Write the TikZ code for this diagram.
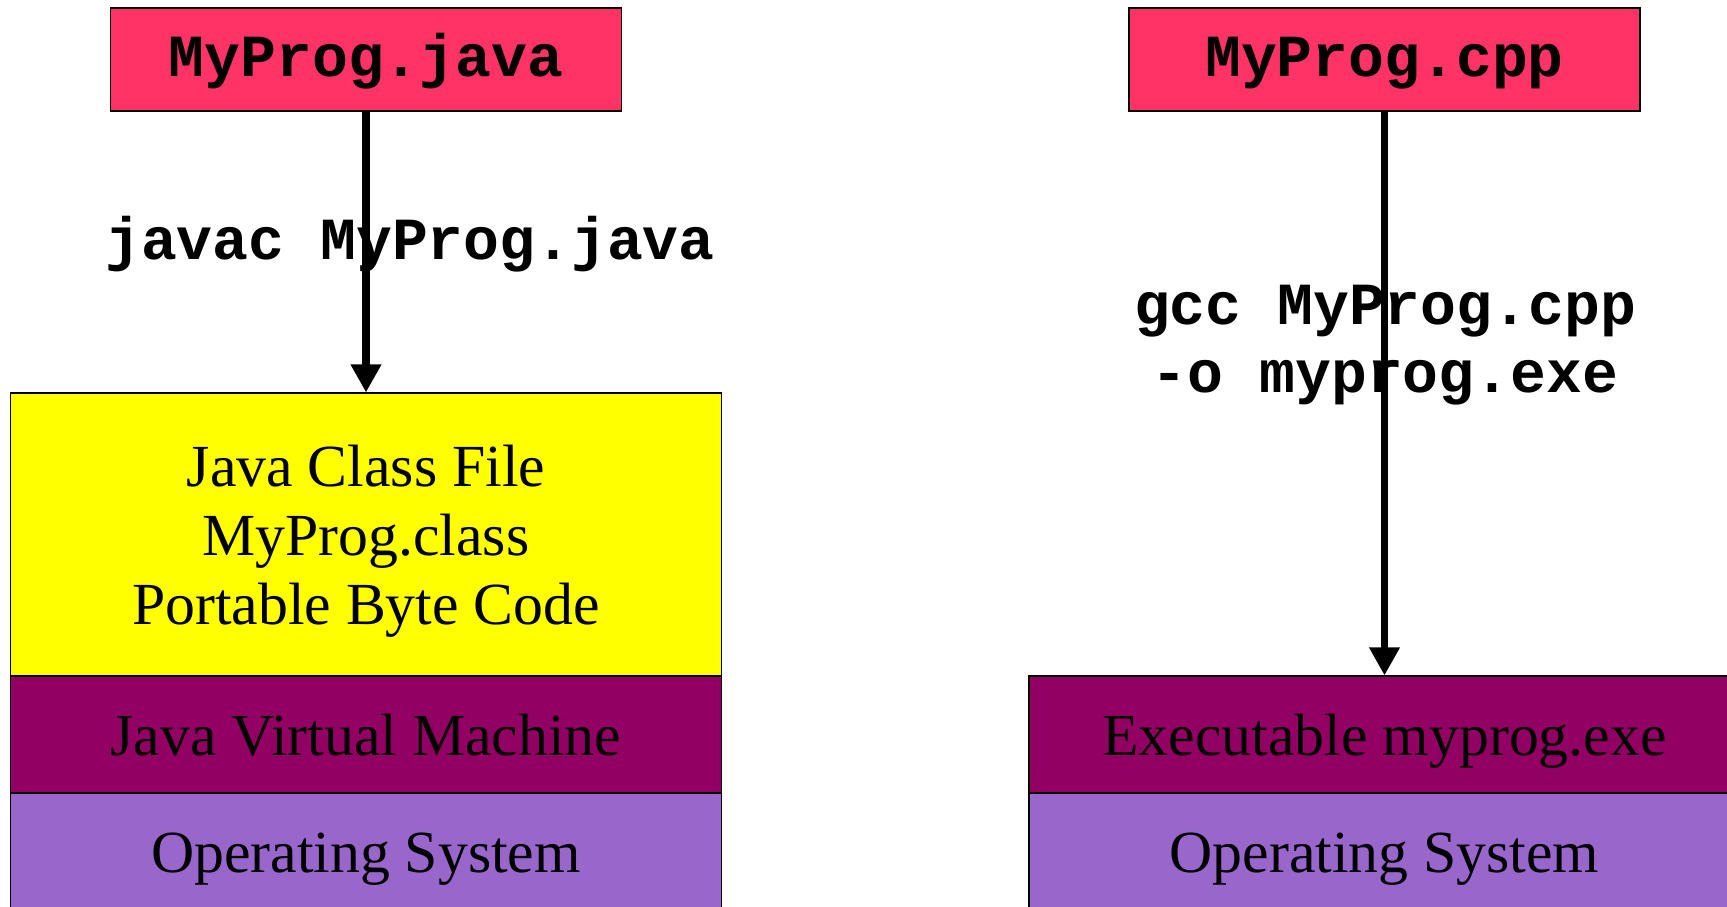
\documentclass[tikz,border=0pt]{standalone}
\usepackage{fontspec}
\setmainfont{Liberation Serif}
\setmonofont{Liberation Mono}
\usetikzlibrary{arrows.meta}

\definecolor{srcpink}{RGB}{255,51,102}
\definecolor{classyellow}{RGB}{255,255,0}
\definecolor{vmpurple}{RGB}{147,0,99}
\definecolor{ospurple}{RGB}{153,102,204}

\tikzset{
  srcbox/.style={fill=srcpink,minimum width=10.22cm,minimum height=2.06cm,
    text height=27pt,text depth=7.5pt,
    font=\fontsize{34}{39}\selectfont\ttfamily\bfseries},
  layer/.style={minimum width=14.22cm,minimum height=2.34cm,
    text height=30.6pt,text depth=6.8pt},
  cmdlabel/.style={align=center,inner sep=0pt,anchor=base,
    font=\fontsize{34}{38.7}\selectfont\ttfamily\bfseries},
  compilearrow/.style={line width=4pt,-{Triangle[width=16.5pt,length=16pt]}}
}

\begin{document}
\begin{tikzpicture}

        \useasboundingbox (0,0) rectangle (34.54,-18.14);
        \clip (0,0) rectangle (34.54,-18.14);

        \begin{scope}[every node/.style={draw,line width=0.6pt,inner sep=0pt,
            align=center,font=\fontsize{34}{39.3}\selectfont}]
          \node[srcbox] (java) at (7.32,-1.19)  {MyProg.java};
          \node[srcbox] (cpp)  at (27.69,-1.19) {MyProg.cpp};

          \node[fill=classyellow,minimum width=14.22cm,minimum height=5.66cm,text depth=0pt]
            (classfile) at (7.32,-10.69) {Java Class File\\MyProg.class\\Portable Byte Code};
          \node[layer,fill=vmpurple]  (jvm)    at (7.32,-14.69)  {Java Virtual Machine};
          \node[layer,fill=ospurple]  (osjava) at (7.32,-17.03)  {Operating System};

          \node[layer,fill=vmpurple]  (exe)    at (27.69,-14.69) {Executable myprog.exe};
          \node[layer,fill=ospurple]  (oscpp)  at (27.69,-17.03) {Operating System};
        \end{scope}

        % compiler commands
        \node[cmdlabel] (javac) at (8.2,-5.2)   {javac MyProg.java};
        \node[cmdlabel] (gcc)   at (27.7,-7.86) {gcc MyProg.cpp\\-o myprog.exe};

        \begin{scope}[every edge/.style={draw,compilearrow}]
          \path (java) edge (classfile);
          \path (cpp)  edge (exe);
        \end{scope}

      \end{tikzpicture}
\end{document}
